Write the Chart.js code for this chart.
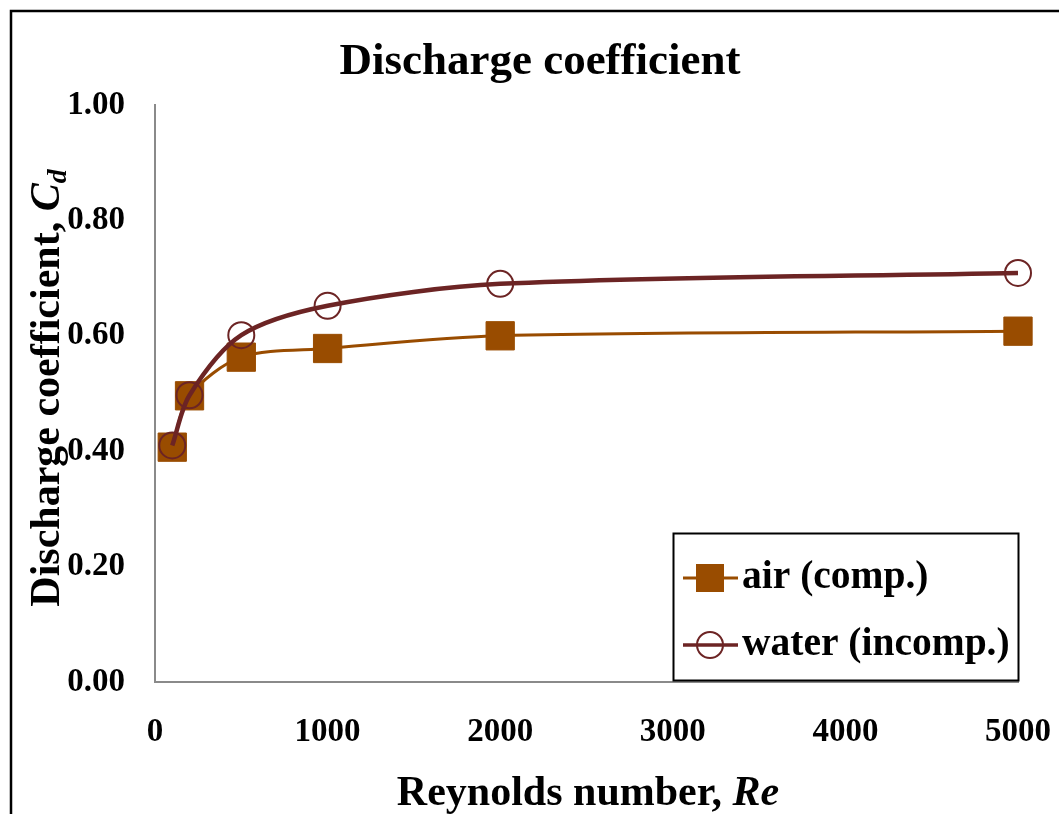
<!DOCTYPE html>
<html>
<head>
<meta charset="utf-8">
<script src="https://cdn.jsdelivr.net/npm/chart.js@4/dist/chart.umd.min.js"></script>
<style>
  html, body { margin: 0; padding: 0; background: #ffffff; overflow: hidden; }
  #wrap { width: 1059px; height: 814px; position: relative; }
  #cd { display: block; }
</style>
</head>
<body>
<div id="wrap"><canvas id="cd" width="1059" height="814"></canvas></div>
<script>
// Reynolds numbers and measured discharge coefficients
const reynolds = [100, 200, 500, 1000, 2000, 5000];
const airCd    = [0.407, 0.496, 0.563, 0.578, 0.600, 0.608];
const waterCd  = [0.410, 0.497, 0.601, 0.652, 0.690, 0.709];

const xTicks = [0, 1000, 2000, 3000, 4000, 5000];
const yTicks = [0.00, 0.20, 0.40, 0.60, 0.80, 1.00];

const titleText = 'Discharge coefficient';
const seriesNames = ['air (comp.)', 'water (incomp.)'];

const AIR = '#994C00';
const WATER = '#6C2424';
const AXIS = '#8a8a8a';
const SERIF = '"Liberation Serif", "Times New Roman", serif';

function toPoints(xs, ys) { return xs.map((x, i) => ({ x: x, y: ys[i] })); }

// Frame, title, axis titles and the legend box
const decorations = {
  id: 'decorations',
  beforeDraw(chart) {
    const ctx = chart.ctx;
    ctx.save();
    ctx.fillStyle = '#ffffff';
    ctx.fillRect(0, 0, chart.width, chart.height);
    ctx.restore();
  },
  afterDraw(chart) {
    const ctx = chart.ctx;
    ctx.save();

    // outer frame
    ctx.strokeStyle = '#000000';
    ctx.lineWidth = 2.5;
    ctx.strokeRect(11, 11, chart.width + 40, chart.height + 40);

    // title
    ctx.fillStyle = '#000000';
    ctx.textAlign = 'center';
    ctx.textBaseline = 'alphabetic';
    ctx.font = 'bold 45px ' + SERIF;
    ctx.fillText(titleText, 540, 74);

    // x-axis title with italic symbol
    const xa = 'Reynolds number, ';
    const xb = 'Re';
    ctx.font = 'bold 42px ' + SERIF;
    const wa = ctx.measureText(xa).width;
    ctx.font = 'italic bold 42px ' + SERIF;
    const wb = ctx.measureText(xb).width;
    const sx = 588 - (wa + wb) / 2;
    ctx.textAlign = 'left';
    ctx.font = 'bold 42px ' + SERIF;
    ctx.fillText(xa, sx, 805);
    ctx.font = 'italic bold 42px ' + SERIF;
    ctx.fillText(xb, sx + wa, 805);

    // y-axis title, rotated, with C subscript d
    ctx.save();
    ctx.translate(59, 388);
    ctx.rotate(-Math.PI / 2);
    const ya = 'Discharge coefficient, ';
    const yb = 'C';
    const yc = 'd';
    ctx.font = 'bold 42px ' + SERIF;
    const ywa = ctx.measureText(ya).width;
    ctx.font = 'italic bold 42px ' + SERIF;
    const ywb = ctx.measureText(yb).width;
    ctx.font = 'italic bold 28px ' + SERIF;
    const ywc = ctx.measureText(yc).width;
    const sy = -(ywa + ywb + ywc) / 2;
    ctx.textAlign = 'left';
    ctx.font = 'bold 42px ' + SERIF;
    ctx.fillText(ya, sy, 0);
    ctx.font = 'italic bold 42px ' + SERIF;
    ctx.fillText(yb, sy + ywa, 0);
    ctx.font = 'italic bold 28px ' + SERIF;
    ctx.fillText(yc, sy + ywa + ywb, 7);
    ctx.restore();

    // legend box
    const lx = 673.5, ly = 533.5, lw = 345, lh = 147;
    ctx.fillStyle = '#ffffff';
    ctx.fillRect(lx, ly, lw, lh);
    ctx.strokeStyle = '#000000';
    ctx.lineWidth = 2;
    ctx.strokeRect(lx, ly, lw, lh);

    const rows = [
      { name: seriesNames[0], color: AIR, lw: 3, y: 578, marker: 'square' },
      { name: seriesNames[1], color: WATER, lw: 3.5, y: 645, marker: 'circle' }
    ];
    rows.forEach(r => {
      ctx.strokeStyle = r.color;
      ctx.lineWidth = r.lw;
      ctx.beginPath();
      ctx.moveTo(683, r.y);
      ctx.lineTo(738, r.y);
      ctx.stroke();
      if (r.marker === 'square') {
        ctx.fillStyle = r.color;
        ctx.fillRect(710 - 14, r.y - 14, 28, 28);
      } else {
        ctx.lineWidth = 2;
        ctx.beginPath();
        ctx.arc(710, r.y, 13, 0, Math.PI * 2);
        ctx.stroke();
      }
      ctx.fillStyle = '#000000';
      ctx.font = 'bold 39.5px ' + SERIF;
      ctx.textAlign = 'left';
      ctx.textBaseline = 'middle';
      ctx.fillText(r.name, 742, r.y);
    });

    ctx.restore();
  }
};

new Chart(document.getElementById('cd'), {
  type: 'line',
  data: {
    datasets: [
      {
        label: seriesNames[1],
        data: toPoints(reynolds, waterCd),
        borderColor: WATER,
        borderWidth: 4.5,
        tension: 0.3,
        pointStyle: 'circle',
        pointRadius: 13,
        pointBorderWidth: 2,
        pointBorderColor: WATER,
        pointBackgroundColor: 'rgba(0,0,0,0)',
        clip: false
      },
      {
        label: seriesNames[0],
        data: toPoints(reynolds, airCd),
        borderColor: AIR,
        borderWidth: 3,
        tension: 0.3,
        pointStyle: 'rect',
        pointRadius: 20,
        pointBorderWidth: 1,
        pointBorderColor: AIR,
        pointBackgroundColor: AIR,
        clip: false
      }
    ]
  },
  options: {
    responsive: false,
    maintainAspectRatio: false,
    animation: false,
    devicePixelRatio: 1,
    layout: { padding: { top: 105, right: 41, left: 0, bottom: 0 } },
    plugins: {
      legend: { display: false },
      title: { display: false },
      tooltip: { enabled: false }
    },
    scales: {
      x: {
        type: 'linear',
        min: 0,
        max: 5000,
        afterBuildTicks(scale) { scale.ticks = xTicks.map(v => ({ value: v })); },
        afterFit(scale) {
          scale.height = 132;
          scale.paddingLeft = 0; scale.paddingRight = 0;
        },
        grid: { display: false, drawTicks: false },
        border: { display: true, color: AXIS, width: 2 },
        ticks: {
          padding: 31,
          color: '#000000',
          font: { family: SERIF, size: 33, weight: 'bold' },
          maxRotation: 0,
          callback: v => String(v)
        }
      },
      y: {
        type: 'linear',
        min: 0,
        max: 1,
        afterBuildTicks(scale) { scale.ticks = yTicks.map(v => ({ value: v })); },
        afterFit(scale) {
          scale.width = 155;
          scale.paddingTop = 0; scale.paddingBottom = 0;
        },
        grid: { display: false, drawTicks: false },
        border: { display: true, color: AXIS, width: 2 },
        ticks: {
          padding: 30,
          color: '#000000',
          font: { family: SERIF, size: 33, weight: 'bold' },
          callback: v => Number(v).toFixed(2)
        }
      }
    }
  },
  plugins: [decorations]
});
</script>
</body>
</html>
